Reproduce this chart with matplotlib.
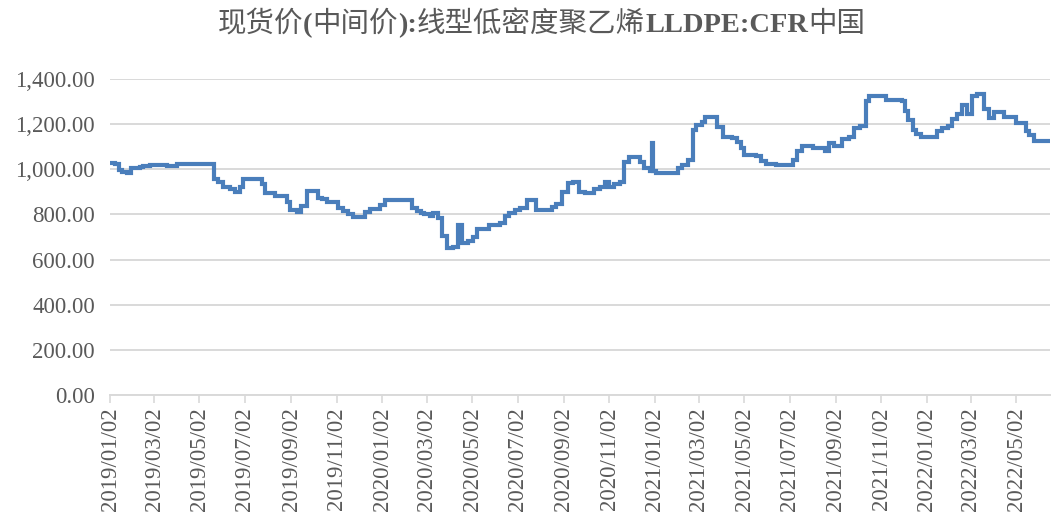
import matplotlib
matplotlib.use("Agg")
import matplotlib.pyplot as plt
import matplotlib.dates as mdates
import matplotlib.ticker as mticker
import pandas as pd

# --- DATA: date where a price level starts, and that price (USD/t) ---
dates = [
    "2019-01-02", "2019-01-09", "2019-01-14", "2019-01-18", "2019-01-25", "2019-01-30",
    "2019-02-11", "2019-02-15", "2019-02-25", "2019-03-19", "2019-04-02", "2019-05-21",
    "2019-05-27", "2019-06-02", "2019-06-12", "2019-06-19", "2019-06-25", "2019-06-29",
    "2019-07-25", "2019-07-29", "2019-08-11", "2019-08-27", "2019-08-31", "2019-09-10",
    "2019-09-15", "2019-09-23", "2019-10-08", "2019-10-13", "2019-10-20", "2019-11-04",
    "2019-11-10", "2019-11-17", "2019-11-24", "2019-12-10", "2019-12-17", "2019-12-30",
    "2020-01-06", "2020-02-11", "2020-02-18", "2020-02-24", "2020-02-28", "2020-03-06",
    "2020-03-10", "2020-03-17", "2020-03-23", "2020-03-29", "2020-04-06", "2020-04-13",
    "2020-04-19", "2020-04-26", "2020-05-03", "2020-05-09", "2020-05-25", "2020-06-08",
    "2020-06-15", "2020-06-21", "2020-06-28", "2020-07-05", "2020-07-14", "2020-07-27",
    "2020-08-17", "2020-08-23", "2020-08-31", "2020-09-07", "2020-09-14", "2020-09-23",
    "2020-09-30", "2020-10-13", "2020-10-20", "2020-10-27", "2020-11-02", "2020-11-09",
    "2020-11-16", "2020-11-22", "2020-11-29", "2020-12-13", "2020-12-19", "2020-12-26",
    "2020-12-30", "2020-12-31", "2021-01-04", "2021-02-02", "2021-02-08", "2021-02-15",
    "2021-02-22", "2021-02-27", "2021-03-06", "2021-03-10", "2021-03-27", "2021-04-03",
    "2021-04-16", "2021-04-23", "2021-04-28", "2021-05-02", "2021-05-18", "2021-05-25",
    "2021-06-01", "2021-06-14", "2021-07-06", "2021-07-12", "2021-07-19", "2021-08-02",
    "2021-08-18", "2021-08-24", "2021-08-31", "2021-09-11", "2021-09-20", "2021-09-27",
    "2021-10-04", "2021-10-12", "2021-10-17", "2021-11-09", "2021-11-30", "2021-12-04",
    "2021-12-08", "2021-12-14", "2021-12-19", "2021-12-26", "2022-01-16", "2022-01-23",
    "2022-01-30", "2022-02-05", "2022-02-12", "2022-02-19", "2022-02-25", "2022-03-04",
    "2022-03-11", "2022-03-20", "2022-03-27", "2022-04-03", "2022-04-16", "2022-05-02",
    "2022-05-15", "2022-05-19", "2022-05-26", "2022-06-16",
]
prices = [
    1030, 1025, 995, 990, 985, 1005,
    1010, 1015, 1020, 1013, 1022, 955,
    945, 923, 911, 900, 923, 955,
    933, 896, 882, 857, 820, 812,
    837, 904, 871, 867, 857, 827,
    817, 802, 787, 812, 823, 842,
    864, 827, 817, 805, 802, 793,
    808, 783, 705, 650, 657, 753,
    675, 682, 702, 734, 753, 764,
    793, 805, 820, 830, 864, 820,
    835, 846, 901, 938, 945, 901,
    894, 911, 923, 942, 923, 933,
    945, 1034, 1056, 1034, 1004, 994,
    1118, 994, 985, 1004, 1019, 1041,
    1174, 1196, 1211, 1230, 1189, 1145,
    1137, 1120, 1094, 1064, 1060, 1037,
    1024, 1020, 1042, 1083, 1104, 1094,
    1082, 1116, 1105, 1135, 1145, 1185,
    1194, 1303, 1323, 1305, 1303, 1260,
    1220, 1175, 1156, 1145, 1168, 1182,
    1193, 1224, 1244, 1286, 1244, 1323,
    1333, 1266, 1227, 1253, 1234, 1207,
    1168, 1150, 1126, 1126,
]
# title split into pieces: Chinese parts regular, Latin parts bold serif
title_parts = ["现货价", "(", "中间价", "):", "线型低密度聚乙烯", "LLDPE:CFR", "中国"]
y_ticks = [0, 200, 400, 600, 800, 1000, 1200, 1400]

x = pd.to_datetime(dates)

# --- PLOT ---
plt.rcParams['font.family'] = ['Liberation Serif', 'Noto Sans CJK SC']
text_color = '#595959'
grid_color = '#d9d9d9'

fig = plt.figure(figsize=(10.51, 5.2), dpi=100)
ax = fig.add_axes([0.1047, 0.2404, 0.894, 0.6076])

ax.plot(x, prices, drawstyle='steps-post', color='#4a7ebb', linewidth=3,
        solid_joinstyle='miter')

ax.set_ylim(0, 1400)
ax.set_yticks(y_ticks)
ax.yaxis.set_major_formatter(mticker.StrMethodFormatter('{x:,.2f}'))
ax.set_xlim(pd.Timestamp("2019-01-02"), pd.Timestamp("2022-06-16"))
ax.xaxis.set_major_locator(mdates.MonthLocator(bymonth=range(1, 13, 2), bymonthday=2))
ax.xaxis.set_major_formatter(mdates.DateFormatter('%Y/%m/%d'))

ax.grid(axis='y', color=grid_color, linewidth=1.4)
ax.set_axisbelow(True)
for side in ['left', 'right', 'top']:
    ax.spines[side].set_visible(False)
ax.spines['bottom'].set_color(grid_color)
ax.spines['bottom'].set_linewidth(1.4)

ax.tick_params(axis='y', length=0, pad=11, labelsize=16.5, labelcolor=text_color)
ax.tick_params(axis='x', length=6, width=1.2, color=grid_color, pad=3,
               labelsize=16.5, labelcolor=text_color, labelrotation=90)

# title: place pieces side by side on a common baseline, then center the row
renderer = fig.canvas.get_renderer()
pieces = []
for part in title_parts:
    is_cjk = any(ord(c) > 0x2e80 for c in part)
    t = fig.text(0, 0, part, fontsize=20.5, color=text_color,
                 family=['Noto Sans CJK SC'] if is_cjk else ['Liberation Serif'],
                 weight='normal' if is_cjk else 'bold',
                 ha='left', va='baseline', transform=None)
    pieces.append((t, t.get_window_extent(renderer).width))
total = sum(w for _, w in pieces)
cx = 0.515 * fig.bbox.width
base_y = fig.bbox.height - 32
pos = cx - total / 2
for t, w in pieces:
    t.set_position((pos, base_y))
    pos += w

fig.savefig('out.png', dpi=100)
